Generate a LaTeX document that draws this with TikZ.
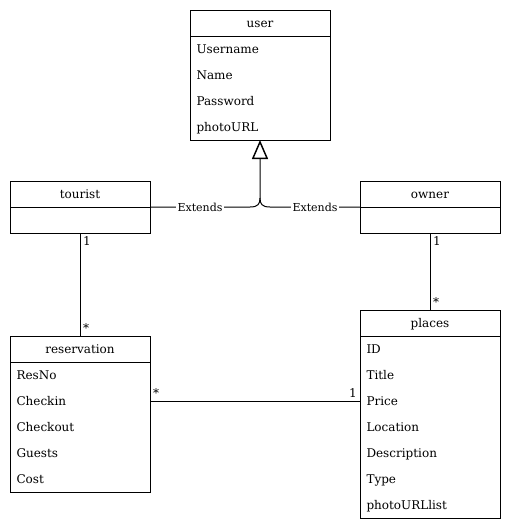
\documentclass[tikz,border=0pt]{standalone}
\usepackage{fontspec}
\setmainfont{DejaVu Serif}
\usetikzlibrary{arrows.meta,positioning}

\begin{document}
\begin{tikzpicture}[x=0.75pt,y=-0.75pt,line width=0.75pt,
        classhead/.style={draw,minimum width=105pt,minimum height=19.5pt,inner sep=0pt,outer sep=0pt,text height=7.2pt,text depth=0.8pt,font=\fontsize{9}{11}\selectfont},
        classbody/.style={draw,minimum width=105pt,inner sep=0pt,outer sep=0pt},
        attr/.style={anchor=west,inner sep=0pt,text height=7.2pt,text depth=0.8pt,font=\fontsize{9}{11}\selectfont},
        mult/.style={inner sep=2pt,font=\fontsize{9}{11}\selectfont},
        extlabel/.style={fill=white,inner sep=1pt,font=\fontsize{8.25}{10}\selectfont}]
        \useasboundingbox (0,0) rectangle (512,532);
        \node[classhead](userhead) at (260,23){user};
        \node[classbody,minimum height=78pt,below=0pt of userhead](userbody){};
        \foreach \t [count=\i] in {Username,Name,Password,photoURL}
            \node[attr](user\i) at (196,23+26*\i){\t};
        \node[classhead](touristhead) at (80,194){tourist};
        \node[classbody,minimum height=19.5pt,below=0pt of touristhead](touristbody){};
        \node[classhead](ownerhead) at (430,194){owner};
        \node[classbody,minimum height=19.5pt,below=0pt of ownerhead](ownerbody){};
        \node[classhead](reservationhead) at (80,349){reservation};
        \node[classbody,minimum height=97.5pt,below=0pt of reservationhead](reservationbody){};
        \foreach \t [count=\i] in {ResNo,Checkin,Checkout,Guests,Cost}
            \node[attr](reservation\i) at (16,349+26*\i){\t};
        \node[classhead](placeshead) at (430,323){places};
        \node[classbody,minimum height=136.5pt,below=0pt of placeshead](placesbody){};
        \foreach \t [count=\i] in {ID,Title,Price,Location,Description,Type,photoURLlist}
            \node[attr](places\i) at (366,323+26*\i){\t};
        \draw[-{Triangle[open,length=14.25pt,width=12pt,line width=1.1pt]}](touristhead.south east)--node[extlabel]{Extends}(250,207) .. controls (258,207) and (260,204) .. (260,198)--(userbody.south);
        \draw(ownerhead.south west)--node[extlabel]{Extends}(270,207) .. controls (262,207) and (260,204) .. (260,198);
        \draw(touristbody.south)--(reservationhead.north)node[mult,pos=0,anchor=north west]{1}node[mult,pos=1,anchor=south west]{*};
        \draw(ownerbody.south)--(placeshead.north)node[mult,pos=0,anchor=north west]{1}node[mult,pos=1,anchor=south west]{*};
        \draw(reservationbody.east|-reservation2)--(placesbody.west|-places3)node[mult,pos=0,anchor=south west]{*}node[mult,pos=1,anchor=south east]{1};
    \end{tikzpicture}
\end{document}
